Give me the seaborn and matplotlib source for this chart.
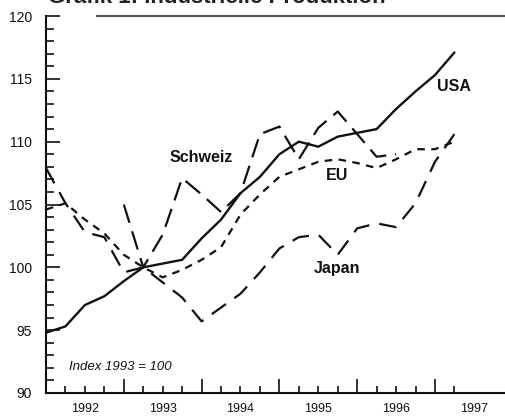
import numpy as np
import pandas as pd
import matplotlib
matplotlib.use("Agg")
import matplotlib.pyplot as plt
import seaborn as sns

# ---------------- data (quarterly, index 1993 = 100) ----------------
years = [1992, 1993, 1994, 1995, 1996, 1997]
quarters = [f"{y}Q{q}" for y in years for q in (1, 2, 3, 4)][:22]

usa = [94.8, 95.3, 97.0, 97.7, 98.9, 100.0, 100.3, 100.6, 102.3, 103.8, 105.9,
       107.2, 109.0, 110.0, 109.6, 110.4, 110.7, 111.0, 112.6, 114.0, 115.3, 117.1]
eu = [104.6, 105.1, 103.8, 102.7, 101.0, 100.0, 99.2, 99.8, 100.6, 101.6, 104.2,
      105.8, 107.2, 107.8, 108.4, 108.6, 108.3, 107.9, 108.6, 109.4, 109.4, 110.0]
japan = [107.9, 105.1, 102.8, 102.4, 99.6, 100.0, 98.8, 97.6, 95.7, 96.8, 97.9,
         99.6, 101.5, 102.4, 102.6, 101.0, 103.1, 103.5, 103.2, 105.1, 108.4, 110.6]
schweiz = [np.nan, np.nan, np.nan, np.nan, 105.0, 100.0, 102.6, 107.1, 105.8, 104.4,
           105.9, 110.6, 111.2, 108.6, 111.1, 112.4, 110.6, 108.8, 109.0,
           np.nan, np.nan, np.nan]

year_labels = ["1992", "1993", "1994", "1995", "1996", "1997"]
y_major = [90, 95, 100, 105, 110, 115, 120]

# ---------------- build table ----------------
pos = [int(q[:4]) + (int(q[-1]) - 1) / 4 for q in quarters]
df = pd.DataFrame({"t": pos, "USA": usa, "EU": eu, "Japan": japan, "Schweiz": schweiz})

sns.set_style("ticks")
plt.rcParams["font.family"] = ["Liberation Sans", "DejaVu Sans"]

fig = plt.figure(figsize=(5.06, 4.16), dpi=100)
ax = fig.add_axes([46 / 506, 23 / 416, 460 / 506, 377 / 416])

ink = "#111111"
sns.lineplot(data=df, x="t", y="USA", ax=ax, color=ink, lw=1.7, linestyle="-")
sns.lineplot(data=df, x="t", y="EU", ax=ax, color=ink, lw=1.6,
             linestyle=(0, (3.4, 2.9)))
sns.lineplot(data=df, x="t", y="Japan", ax=ax, color=ink, lw=1.6,
             linestyle=(0, (7.8, 4.6)))
sns.lineplot(data=df.dropna(subset=["Schweiz"]), x="t", y="Schweiz", ax=ax,
             color=ink, lw=1.6, linestyle=(0, (8.6, 4.0)))

ax.set_xlim(1992, 1997.913)
ax.set_ylim(90, 120)
ax.set_xlabel("")
ax.set_ylabel("")

# spines
for s in ("left", "bottom"):
    ax.spines[s].set_linewidth(1.5)
    ax.spines[s].set_color(ink)
ax.spines["right"].set_visible(False)
ax.spines["top"].set_visible(True)
ax.spines["top"].set_color("#555555")
ax.spines["top"].set_linewidth(1.5)
ax.spines["top"].set_bounds(1992.656, 1997.913)

# y ticks
ax.set_yticks(y_major)
ax.set_yticklabels([str(v) for v in y_major])
ax.set_yticks(np.arange(90, 121, 1), minor=True)
ax.tick_params(axis="y", which="major", direction="in", length=10, width=1.2,
               pad=10, labelsize=10, colors=ink)
ax.tick_params(axis="y", which="minor", direction="in", length=6, width=1.2, colors=ink)

# x ticks: year boundaries (major) and quarters (minor)
ax.set_xticks([int(y) for y in year_labels[1:]])
ax.set_xticklabels([])
ax.set_xticks(pos, minor=True)
ax.tick_params(axis="x", which="major", direction="in", length=10, width=1.2, colors=ink)
ax.tick_params(axis="x", which="minor", direction="in", length=5, width=1.2, colors=ink)

sec = ax.secondary_xaxis("bottom")
sec.set_xticks([int(y) + 0.5 for y in year_labels])
sec.set_xticklabels(year_labels)
sec.tick_params(length=0, pad=7, labelsize=9, colors=ink)
sec.spines["bottom"].set_visible(False)

# series labels
lab = dict(fontsize=11.5, fontweight="bold", color=ink, ha="center", va="center")
ax.text(1997.244, 114.38, "USA", **lab)
ax.text(1993.992, 108.76, "Schweiz", **lab)
ax.text(1995.747, 107.29, "EU", **lab)
ax.text(1995.747, 99.92, "Japan", **lab)
ax.text(1992.296, 92.07, "Index 1993 = 100", fontsize=9.5, style="italic",
        color=ink, ha="left", va="center")

# title (cropped at the top like the reference)
fig.text(48 / 506, 1 - 3.0 / 416, "Grafik 1: Industrielle Produktion",
         fontsize=16, fontweight="bold", color="#222222", ha="left", va="baseline")

fig.savefig("out.png", dpi=100)
